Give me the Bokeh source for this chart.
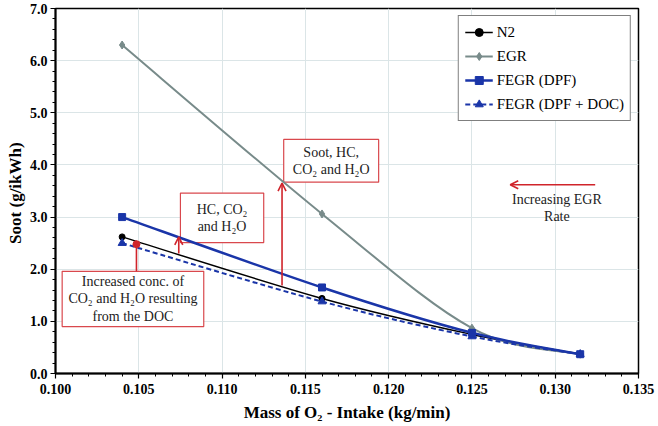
import numpy as np
from bokeh.plotting import figure
from bokeh.models import (Legend, LegendItem, Arrow, OpenHead, Label, Range1d,
                          SingleIntervalTicker, PrintfTickFormatter, ColumnDataSource)
from bokeh.embed import file_html
from bokeh.resources import INLINE

# ---- data ----
x_o2 = [0.104, 0.116, 0.125, 0.1315]
soot_n2 = [2.62, 1.44, 0.75, 0.37]
soot_egr = [6.30, 3.06, 0.87, 0.37]
soot_fegr_dpf = [3.00, 1.65, 0.78, 0.37]
soot_fegr_doc = [2.50, 1.38, 0.71, 0.37]
series_names = ["N2", "EGR", "FEGR (DPF)", "FEGR (DPF + DOC)"]

FONT = "Liberation Serif"
RED = "#d0242b"
BOX_RED = "#d9484d"
BLUE = "#1a35a8"
GRAY = "#788b8a"


def smooth_source(xs, ys, t=1.0 / 6.0):
    """Catmull-Rom style smoothing (like a spreadsheet's smoothed line) as cubic Bezier segments."""
    x = np.asarray(xs, float)
    y = np.asarray(ys, float)
    n = len(x)
    xp = np.concatenate([[x[0]], x, [x[-1]]])
    yp = np.concatenate([[y[0]], y, [y[-1]]])
    return ColumnDataSource(dict(
        x0=x[:-1], y0=y[:-1], x1=x[1:], y1=y[1:],
        cx0=x[:-1] + (xp[2:n + 1] - xp[0:n - 1]) * t,
        cy0=y[:-1] + (yp[2:n + 1] - yp[0:n - 1]) * t,
        cx1=x[1:] - (xp[3:n + 2] - xp[1:n]) * t,
        cy1=y[1:] - (yp[3:n + 2] - yp[1:n]) * t,
    ))


p = figure(width=658, height=426, output_backend="svg", toolbar_location=None,
           x_range=Range1d(0.100, 0.135), y_range=Range1d(0.0, 7.0),
           min_border_left=55, min_border_right=20, min_border_top=8, min_border_bottom=53)
p.background_fill_color = "white"
p.border_fill_color = "white"
p.outline_line_color = "black"
p.outline_line_width = 1.5

# axes
p.xaxis.ticker = SingleIntervalTicker(interval=0.005, num_minor_ticks=5)
p.yaxis.ticker = SingleIntervalTicker(interval=1.0, num_minor_ticks=5)
p.xaxis.formatter = PrintfTickFormatter(format="%.3f")
p.yaxis.formatter = PrintfTickFormatter(format="%.1f")
for ax in (p.xaxis, p.yaxis):
    ax.axis_line_color = "black"
    ax.axis_line_width = 2
    ax.major_tick_line_color = "black"
    ax.minor_tick_line_color = "black"
    ax.major_tick_line_width = 1.2
    ax.minor_tick_line_width = 1
    ax.major_tick_in = 0
    ax.major_tick_out = 5
    ax.minor_tick_in = 0
    ax.minor_tick_out = 3
    ax.major_label_text_font = FONT
    ax.major_label_text_font_style = "bold"
    ax.major_label_text_font_size = "14px"
    ax.major_label_text_color = "black"
    ax.axis_label_text_font = FONT
    ax.axis_label_text_font_style = "bold"
    ax.axis_label_text_font_size = "17px"
    ax.axis_label_text_color = "black"
p.xaxis.axis_label = "Mass of O\u2082 - Intake (kg/min)"
p.yaxis.axis_label = "Soot  (g/ikWh)"
p.xaxis.major_label_standoff = 5
p.xaxis.axis_label_standoff = 6
p.yaxis.major_label_standoff = 3
p.yaxis.axis_label_standoff = 2

p.xgrid.grid_line_color = "#dbe5e7"
p.ygrid.grid_line_color = "#dbe5e7"
p.xgrid.grid_line_width = 1
p.ygrid.grid_line_width = 1

# ---- annotation boxes (behind series) ----
boxes = [
    (0.1004, 0.1089, 0.90, 1.96),
    (0.1075, 0.1125, 2.51, 3.46),
    (0.1137, 0.1194, 3.67, 4.49),
]
p.quad(left=[b[0] for b in boxes], right=[b[1] for b in boxes],
       bottom=[b[2] for b in boxes], top=[b[3] for b in boxes],
       fill_color="white", line_color=BOX_RED, line_width=1.2)

# ---- series ----
series = [
    (soot_n2, "black", 1.5, "solid", "circle", 6),
    (soot_egr, GRAY, 2.0, "solid", "diamond", 8),
    (soot_fegr_doc, BLUE, 2.0, "5 3", "triangle", 8),
    (soot_fegr_dpf, BLUE, 2.5, "solid", "square", 7),
]
legend_map = {}
for idx, (ys, col, lw, dash, marker, msize) in enumerate(series):
    br = p.bezier(x0="x0", y0="y0", x1="x1", y1="y1", cx0="cx0", cy0="cy0",
                  cx1="cx1", cy1="cy1", source=smooth_source(x_o2, ys),
                  line_color=col, line_width=lw, line_dash=dash)
    sr = p.scatter(x_o2, ys, marker=marker, size=msize, fill_color=col, line_color=col)
    legend_map[id(ys)] = [br, sr]

# ---- arrows ----
arrow_specs = [
    (0.1074, 2.30, 0.1074, 2.62, True),
    (0.1136, 1.69, 0.1136, 3.65, True),
    (0.1324, 3.62, 0.1273, 3.62, True),
    (0.10486, 1.96, 0.10486, 2.47, False),
]
for xs_, ys_, xe_, ye_, head in arrow_specs:
    p.add_layout(Arrow(x_start=xs_, y_start=ys_, x_end=xe_, y_end=ye_,
                       line_color=RED, line_width=1.6,
                       end=OpenHead(size=8, line_color=RED, line_width=1.6) if head else None))
p.scatter([0.10486], [2.48], marker="circle", size=7, fill_color=RED, line_color=RED)

# ---- texts ----
labels = [
    (0.10465, 1.43, "Increased conc. of\nCO\u2082 and H\u2082O resulting\nfrom the DOC"),
    (0.1100, 2.985, "HC, CO\u2082\nand H\u2082O"),
    (0.11655, 4.08, "Soot, HC,\nCO\u2082 and H\u2082O"),
    (0.1301, 3.18, "Increasing EGR\nRate"),
]
for lx, ly, txt in labels:
    p.add_layout(Label(x=lx, y=ly, text=txt, text_align="center", text_baseline="middle",
                       text_font=FONT, text_font_size="14px", text_color="#222222",
                       text_line_height=1.15))

# ---- legend ----
items = [
    LegendItem(label=series_names[0], renderers=legend_map[id(soot_n2)]),
    LegendItem(label=series_names[1], renderers=legend_map[id(soot_egr)]),
    LegendItem(label=series_names[2], renderers=legend_map[id(soot_fegr_dpf)]),
    LegendItem(label=series_names[3], renderers=legend_map[id(soot_fegr_doc)]),
]
legend = Legend(items=items, location="top_right", margin=7,
                border_line_color="black", border_line_width=1.5,
                background_fill_color="white", background_fill_alpha=1.0,
                glyph_width=28, glyph_height=20, label_height=20,
                spacing=4, padding=6, label_standoff=4)
legend.label_text_font = FONT
legend.label_text_font_style = "normal"
legend.label_text_font_size = "15px"
legend.label_text_color = "black"
p.add_layout(legend)

open("out.html", "w").write(file_html(p, INLINE))
